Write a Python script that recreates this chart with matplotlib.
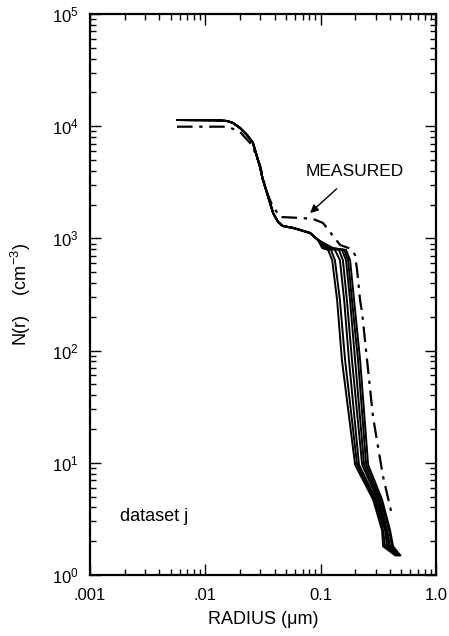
"""Aerosol size distribution, dataset j: retrieved curves vs measured"""

import matplotlib
matplotlib.use("Agg")
import matplotlib.pyplot as plt
from matplotlib.ticker import LogLocator, FixedLocator, FixedFormatter

plt.rcParams["font.family"] = ["Liberation Sans", "DejaVu Sans"]
plt.rcParams["mathtext.fontset"] = "custom"
plt.rcParams["mathtext.rm"] = "Liberation Sans"
plt.rcParams["mathtext.it"] = "Liberation Sans:italic"

# common upper part of the retrieved (solid) curves
upper_r = [0.00569, 0.0121, 0.0154, 0.0174, 0.0200, 0.0230, 0.0259, 0.0286, 0.0298,
           0.0316, 0.0343, 0.0364, 0.0387, 0.0427, 0.0470, 0.0576, 0.0662, 0.081, 0.095]
upper_n = [11350, 11300, 11130, 10690, 9640, 8350, 7080, 5000, 4330,
           3310, 2540, 2070, 1683, 1400, 1290, 1240, 1190, 1117, 968]

# lower part, one list of radii per retrieved curve, same N levels
lower_n = [820, 790, 640, 280, 82, 9.6, 4.7, 2.5, 1.8, 1.5]
lower_r = [
    [0.103, 0.116, 0.126, 0.139, 0.153, 0.199, 0.285, 0.341, 0.348, 0.442],
    [0.105, 0.123, 0.133, 0.147, 0.163, 0.207, 0.294, 0.348, 0.362, 0.451],
    [0.109, 0.133, 0.147, 0.160, 0.176, 0.215, 0.302, 0.362, 0.377, 0.460],
    [0.114, 0.144, 0.156, 0.169, 0.187, 0.229, 0.312, 0.369, 0.392, 0.469],
    [0.118, 0.153, 0.166, 0.180, 0.199, 0.238, 0.321, 0.377, 0.400, 0.479],
    [0.123, 0.160, 0.173, 0.187, 0.211, 0.248, 0.331, 0.392, 0.416, 0.488],
    [0.128, 0.166, 0.180, 0.195, 0.220, 0.258, 0.341, 0.400, 0.425, 0.488],
]

# measured distribution (dash-dot)
meas_r = [0.00568, 0.0157, 0.0200, 0.0254, 0.0298, 0.0336, 0.0379, 0.0445, 0.0662,
          0.0859, 0.1049, 0.1206, 0.1474, 0.1700, 0.1850, 0.1988, 0.2069, 0.2197,
          0.229, 0.284, 0.347, 0.416]
meas_n = [9900, 9900, 8880, 6790, 4510, 2700, 1985, 1552, 1522,
          1490, 1372, 1140, 873, 830, 800, 711, 523, 282,
          216, 26, 7.6, 3.4]

xticks = [0.001, 0.01, 0.1, 1.0]
xticklabels = [".001", ".01", "0.1", "1.0"]

fig = plt.figure(figsize=(4.49, 6.36), dpi=100)
ax = fig.add_axes([0.2004, 0.0959, 0.7706, 0.8821])

for rr in lower_r:
    ax.plot(upper_r + rr, upper_n + lower_n, color="black", lw=1.4,
            solid_joinstyle="round")
ax.plot(meas_r, meas_n, color="black", lw=1.6, linestyle=(0, (7, 3, 1.5, 3)))

ax.set_xscale("log")
ax.set_yscale("log")
ax.set_xlim(0.001, 1.0)
ax.set_ylim(1, 1e5)

ax.xaxis.set_major_locator(FixedLocator(xticks))
ax.xaxis.set_major_formatter(FixedFormatter(xticklabels))
ax.xaxis.set_minor_locator(LogLocator(base=10, subs=range(2, 10), numticks=20))
ax.yaxis.set_major_locator(LogLocator(base=10, numticks=10))
ax.yaxis.set_minor_locator(LogLocator(base=10, subs=range(2, 10), numticks=20))
ax.tick_params(which="both", direction="in", top=True, right=True,
               labelsize=12, width=1.0)
ax.tick_params(axis="x", pad=9)
ax.tick_params(axis="y", pad=8)
ax.tick_params(which="major", length=8)
ax.tick_params(which="minor", length=4)
for s in ax.spines.values():
    s.set_linewidth(1.6)

ax.set_xlabel("RADIUS (\u03bcm)", fontsize=13)
ax.set_ylabel("N(r)    (cm$^{-3}$)", fontsize=13)
ax.xaxis.set_label_coords(0.5, -0.064)
ax.yaxis.set_label_coords(-0.165, 0.5)

ax.annotate("MEASURED", xy=(0.081, 1683), xytext=(0.1987, 3908),
            ha="center", va="center", fontsize=12.5,
            arrowprops=dict(arrowstyle="-|>", color="black", lw=1.0,
                            shrinkA=7, shrinkB=0, mutation_scale=12))
ax.text(0.087, 0.105, "dataset j", transform=ax.transAxes, fontsize=13,
        ha="left", va="center")

fig.savefig("out.png", dpi=100)
